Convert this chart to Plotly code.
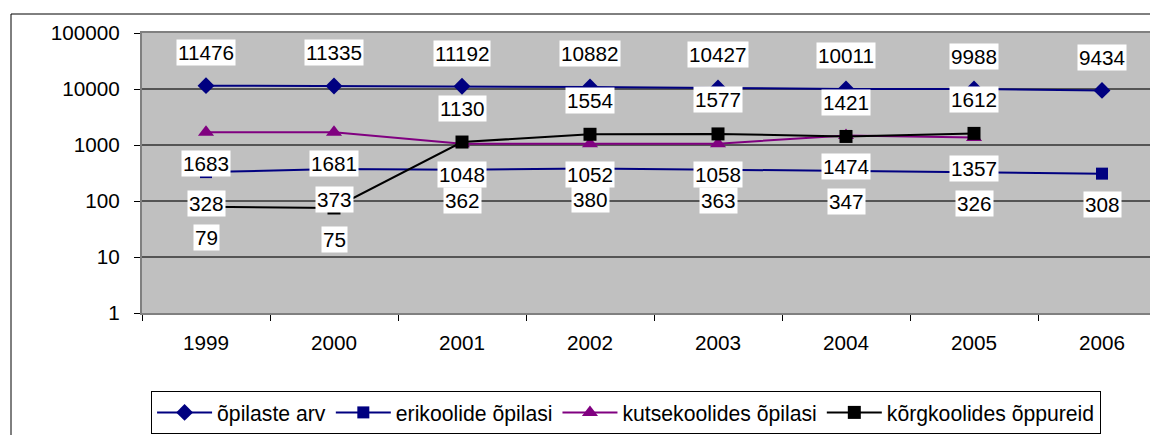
import numpy as np
import plotly.graph_objects as go

years = ["1999", "2000", "2001", "2002", "2003", "2004", "2005", "2006"]
opilaste_arv = [11476, 11335, 11192, 10882, 10427, 10011, 9988, 9434]
erikoolide = [328, 373, 362, 380, 363, 347, 326, 308]
kutsekoolides = [1683, 1681, 1048, 1052, 1058, 1474, 1357, None]
korgkoolides = [79, 75, 1130, 1554, 1577, 1421, 1612, None]

y_tickvals = [1, 10, 100, 1000, 10000, 100000]
y_ticktext = ["1", "10", "100", "1000", "10000", "100000"]

FONT = "Arial, Liberation Sans, sans-serif"
FSIZE = 20.7

series = [
    # name, values, color, marker symbol, marker size
    ("õpilaste arv", opilaste_arv, "#000080", "diamond", 13),
    ("erikoolide õpilasi", erikoolide, "#000080", "square", 12),
    ("kutsekoolides õpilasi", kutsekoolides, "#800080", "triangle-up", 14),
    ("kõrgkoolides õppureid", korgkoolides, "#000000", "square", 13),
]

fig = go.Figure()
for name, values, color, symbol, size in series:
    fig.add_trace(
        go.Scatter(
            x=years,
            y=values,
            name=name,
            mode="lines+markers",
            line={"color": color, "width": 2},
            marker={"symbol": symbol, "size": size, "color": color},
            connectgaps=False,
        )
    )

# data labels, white boxes like the excel chart
# (x given as category index, numeric strings get read as serial numbers)
annotations = []
for name, values, color, symbol, size in series:
    for i, v in enumerate(values):
        if v is None:
            continue
        if name == "õpilaste arv":
            shift = 33
        elif name == "kõrgkoolides õppureid":
            shift = 34 if v >= 100 else -31  # first two sit below the line
        else:
            shift = -31
        annotations.append(dict(
            x=i, y=float(np.log10(v)), xref="x", yref="y",
            text=str(v), showarrow=False, yshift=shift,
            bgcolor="white", borderpad=1,
            font={"family": FONT, "size": FSIZE, "color": "black"},
        ))

# plot area: 142..1150 px wide, one category = 128 px, last one is cut off
cat_px = 128
plot_w = 1150 - 142
x_range = [-0.5, -0.5 + plot_w / cat_px]

fig.update_layout(
    width=1150, height=435,
    margin={"l": 142, "r": 0, "t": 33, "b": 122},
    paper_bgcolor="white",
    plot_bgcolor="#C0C0C0",
    font={"family": FONT, "size": FSIZE, "color": "black"},
    annotations=annotations,
    showlegend=True,
    legend={
        "orientation": "h", "x": 0.009, "y": -0.279,
        "xanchor": "left", "yanchor": "top",
        "bordercolor": "black", "borderwidth": 1,
        "font": {"family": FONT, "size": 21.2},
        "itemwidth": 55,
        "itemclick": False,
    },
    xaxis={
        "type": "category", "range": x_range,
        "tickson": "boundaries", "ticks": "outside", "ticklen": 6,
        "tickcolor": "black", "showgrid": False,
        "showline": True, "linecolor": "#808080", "linewidth": 2, "mirror": True,
        "ticklabelstandoff": 10,
    },
    yaxis={
        "type": "log", "range": [0, 5],
        "tickvals": y_tickvals, "ticktext": y_ticktext,
        "ticks": "outside", "ticklen": 6, "tickcolor": "black",
        "showgrid": True, "gridcolor": "#555555", "gridwidth": 1.5,
        "showline": True, "linecolor": "#808080", "linewidth": 2,
        "zeroline": False, "ticklabelstandoff": 10,
    },
    shapes=[
        # outer chart border, right and bottom edges fall outside the picture
        dict(type="rect", xref="paper", yref="paper",
             x0=(11 - 142) / plot_w, x1=1.05, y0=-0.5, y1=1 + 19 / 280,
             line={"color": "black", "width": 1}, fillcolor="rgba(0,0,0,0)",
             layer="below"),
    ],
)

# page has a default 8px body margin, drop it so the figure sits at 0,0
fig.write_html(
    "out.html",
    config={"displayModeBar": False},
    post_script="document.body.style.margin='0';document.body.style.overflow='hidden';",
)
